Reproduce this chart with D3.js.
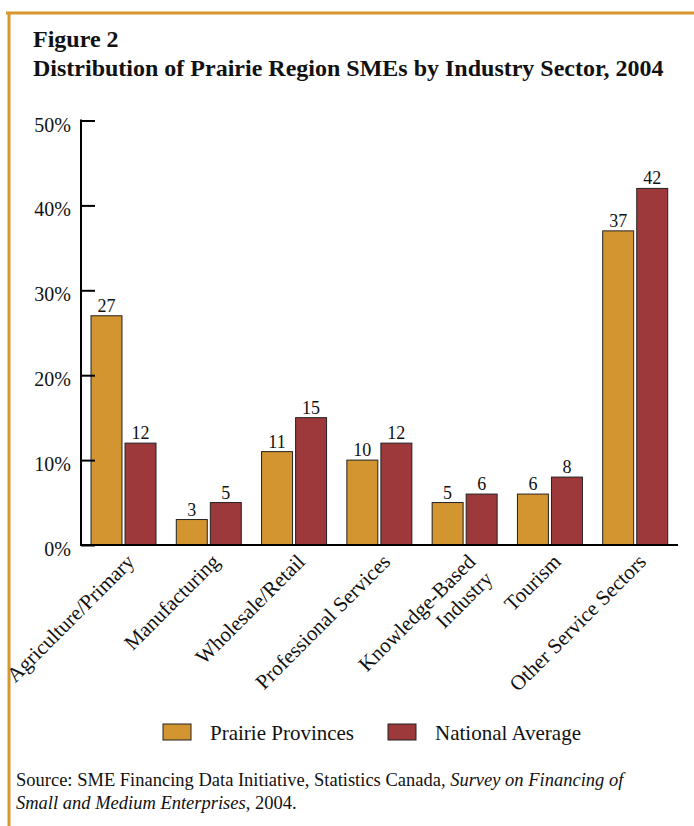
<!DOCTYPE html>
<html>
<head>
<meta charset="utf-8">
<script src="https://cdn.jsdelivr.net/npm/d3@7"></script>
<style>
  body { margin: 0; background: #fff; }
  svg text { font-family: "Liberation Serif", "Times New Roman", serif; fill: #111; }
</style>
</head>
<body>
<script>
let width = 694, height = 826;

// data
let categories = ["Agriculture/Primary", "Manufacturing", "Wholesale/Retail",
  "Professional Services", "Knowledge-Based\nIndustry", "Tourism", "Other Service Sectors"];
let series = ["Prairie Provinces", "National Average"];
let prairie = [27, 3, 11, 10, 5, 6, 37];
let national = [12, 5, 15, 12, 6, 8, 42];
let yTicks = [0, 10, 20, 30, 40, 50];
let colors = ["#D39530", "#9E393B"];

let svg = d3.select("body").append("svg")
    .attr("width", width)
    .attr("height", height)
    .attr("font-family", "Liberation Serif, Times New Roman, serif");

// orange frame (top + left)
svg.append("line").attr("x1", 6).attr("x2", width).attr("y1", 13).attr("y2", 13)
    .attr("stroke", "#D8962E").attr("stroke-width", 3);
svg.append("line").attr("x1", 9).attr("x2", 9).attr("y1", 12).attr("y2", height)
    .attr("stroke", "#D8962E").attr("stroke-width", 3);

// title
svg.append("text").attr("x", 33).attr("y", 47)
    .style("font-size", "24px").style("font-weight", "bold").text("Figure 2");
svg.append("text").attr("x", 33).attr("y", 76)
    .style("font-size", "24px").style("font-weight", "bold")
    .text("Distribution of Prairie Region SMEs by Industry Sector, 2004");

let x0 = d3.scaleBand().domain(categories).range([81, 678]);
let x1 = d3.scaleBand().domain(series).range([10, 75]).paddingInner(0.09);
let y = d3.scaleLinear().domain([0, 50]).range([545, 120.5]);

let rows = categories.map((c, i) => ({cat: c, vals: [prairie[i], national[i]]}));

// bars
let g = svg.append("g");
let grp = g.selectAll("g.grp")
  .data(rows)
  .enter().append("g")
    .attr("class", "grp")
    .attr("transform", d => "translate(" + x0(d.cat) + ",0)");

grp.selectAll("rect")
  .data(d => d.vals.map((v, j) => ({s: series[j], v: v, j: j})))
  .enter().append("rect")
    .attr("x", d => x1(d.s))
    .attr("y", d => y(d.v))
    .attr("width", x1.bandwidth())
    .attr("height", d => y(0) - y(d.v))
    .attr("fill", d => colors[d.j])
    .attr("stroke", "#222")
    .attr("stroke-width", 1);

grp.selectAll("text.val")
  .data(d => d.vals.map((v, j) => ({s: series[j], v: v, j: j})))
  .enter().append("text")
    .attr("class", "val")
    .attr("x", d => x1(d.s) + x1.bandwidth() / 2)
    .attr("y", d => y(d.v) - 4)
    .attr("text-anchor", "middle")
    .style("font-size", "18px")
    .text(d => d.v);

// y axis
let yAxis = d3.axisRight(y)
    .tickValues(yTicks)
    .tickSize(14)
    .tickFormat("");
let ya = svg.append("g").attr("transform", "translate(81,0)").call(yAxis);
ya.select(".domain").remove();
ya.selectAll(".tick line").attr("stroke", "#000").attr("stroke-width", 2);
svg.append("line").attr("x1", 81).attr("x2", 81).attr("y1", 119.5).attr("y2", 546)
    .attr("stroke", "#000").attr("stroke-width", 2);
svg.selectAll("text.ylab")
  .data(yTicks)
  .enter().append("text")
    .attr("class", "ylab")
    .attr("x", 71)
    .attr("y", d => y(d) + 11)
    .attr("text-anchor", "end")
    .style("font-size", "20px")
    .text(d => d + "%");

// x baseline
svg.append("line").attr("x1", 80).attr("x2", 678).attr("y1", y(0)).attr("y2", y(0))
    .attr("stroke", "#000").attr("stroke-width", 2);

// rotated category labels
let xl = svg.selectAll("text.xlab")
  .data(categories)
  .enter().append("text")
    .attr("class", "xlab")
    .attr("text-anchor", "end")
    .style("font-size", "21px")
    .attr("transform", d => "translate(" + (x0(d) + x0.bandwidth() / 2 + 12) + ",563) rotate(-45)");
xl.selectAll("tspan")
  .data(d => d.split("\n"))
  .enter().append("tspan")
    .attr("x", 0)
    .attr("dy", (d, i) => i ? "1.15em" : 0)
    .text(d => d);

// legend
let legX = [163, 388];
let leg = svg.selectAll("g.leg")
  .data(series)
  .enter().append("g")
    .attr("class", "leg")
    .attr("transform", (d, i) => "translate(" + legX[i] + ",724)");
leg.append("rect")
    .attr("width", 28).attr("height", 16)
    .attr("fill", (d, i) => colors[i])
    .attr("stroke", "#222").attr("stroke-width", 1);
leg.append("text")
    .attr("x", 47).attr("y", 16)
    .style("font-size", "21px")
    .text(d => d);

// source note
let src = svg.append("text").attr("x", 16).attr("y", 786).style("font-size", "18.5px");
src.append("tspan").text("Source: SME Financing Data Initiative, Statistics Canada");
src.append("tspan").style("font-style", "italic").text(", Survey on Financing of");
svg.append("text").attr("x", 16).attr("y", 809).style("font-size", "18.5px")
  .call(t => {
    t.append("tspan").style("font-style", "italic").text("Small and Medium Enterprises");
    t.append("tspan").text(", 2004.");
  });
</script>
</body>
</html>
